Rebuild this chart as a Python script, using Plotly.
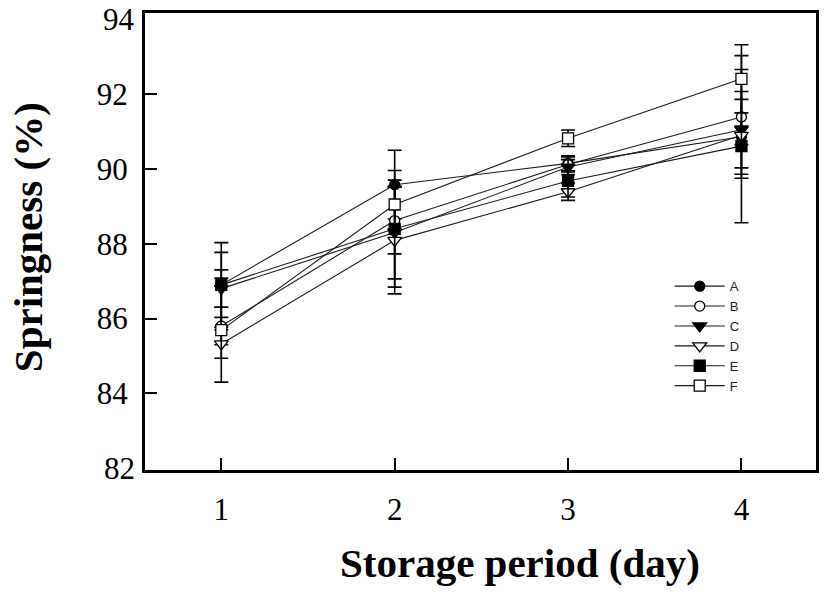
import plotly.graph_objects as go

days = [1, 2, 3, 4]
series_names = ["A", "B", "C", "D", "E", "F"]
A = [86.90, 89.58, 90.15, 90.86]
B = [85.80, 88.62, 90.12, 91.39]
C = [86.80, 88.30, 90.05, 91.05]
D = [85.32, 88.09, 89.39, 90.90]
E = [86.90, 88.40, 89.68, 90.61]
F = [85.69, 89.05, 90.82, 92.41]
A_err = [0.87, 0.92, 0.20, 1.00]
B_err = [0.50, 0.89, 0.20, 1.64]
C_err = [0.50, 1.24, 0.20, 1.02]
D_err = [0.38, 1.43, 0.23, 0.25]
E_err = [1.13, 1.56, 0.43, 2.05]
F_err = [1.39, 0.65, 0.22, 0.91]
y_tick_marks = [84, 86, 88, 90, 92]
y_edge_ticks = [82, 94]
x_ticks = [1, 2, 3, 4]

values = [A, B, C, D, E, F]
errors = [A_err, B_err, C_err, D_err, E_err, F_err]
symbols = ["circle", "circle", "triangle-down", "triangle-down", "square", "square"]
fills = ["black", "white", "black", "white", "black", "white"]
sizes = [10, 10, 12, 12, 11, 11]

fig = go.Figure()
for name, v, e, s, fc, sz in zip(series_names, values, errors, symbols, fills, sizes):
    fig.add_trace(go.Scatter(
        x=days, y=v, name=name,
        mode="lines+markers",
        line=dict(color="#1a1a1a", width=1.1),
        marker=dict(symbol=s, size=sz, color=fc, line=dict(color="black", width=1.3)),
        error_y=dict(type="data", array=e, visible=True, color="black", thickness=1.6, width=7),
    ))

yrange = [81.95, 94.17]
tick_font = dict(family="Liberation Serif", size=31, color="black")
edge_labels = [dict(text=str(t), xref="paper", yref="y", x=0, y=t, xanchor="right",
                    yanchor="middle", xshift=-8, showarrow=False, font=tick_font)
               for t in y_edge_ticks]
fig.update_layout(
    width=827, height=593,
    margin=dict(l=145, r=11, t=13, b=123, autoexpand=False),
    plot_bgcolor="white", paper_bgcolor="white",
    showlegend=True,
    legend=dict(x=0.782, y=0.435, xanchor="left", yanchor="top",
                font=dict(family="Liberation Sans", size=13, color="#222222"),
                bgcolor="rgba(0,0,0,0)", itemwidth=50, tracegroupgap=0),
    xaxis=dict(range=[0.56, 4.43], tickvals=x_ticks, ticktext=[str(t) for t in x_ticks],
               ticks="inside", ticklen=12, tickwidth=1.5, tickcolor="black",
               showline=True, linewidth=3, linecolor="black", mirror=True,
               showgrid=False, zeroline=False, automargin=False,
               tickfont=tick_font, ticklabelstandoff=10),
    yaxis=dict(range=yrange, tickvals=y_tick_marks,
               ticks="inside", ticklen=12, tickwidth=1.5, tickcolor="black",
               showline=True, linewidth=3, linecolor="black", mirror=True,
               showgrid=False, zeroline=False, automargin=False,
               tickfont=tick_font, ticklabelstandoff=8),
    annotations=edge_labels + [
        dict(text="<b>Storage period (day)</b>", xref="paper", yref="paper",
             x=0.559, y=-0.2035, showarrow=False, xanchor="center", yanchor="middle",
             font=dict(family="Liberation Serif", size=41, color="black")),
        dict(text="<b>Springness (%)</b>", xref="paper", yref="paper",
             x=-0.174, y=0.51, showarrow=False, xanchor="center", yanchor="middle",
             textangle=-90,
             font=dict(family="Liberation Serif", size=41, color="black")),
    ],
)

fig.write_html("out.html", config={"displayModeBar": False},
               post_script="document.body.style.margin='0px';")
